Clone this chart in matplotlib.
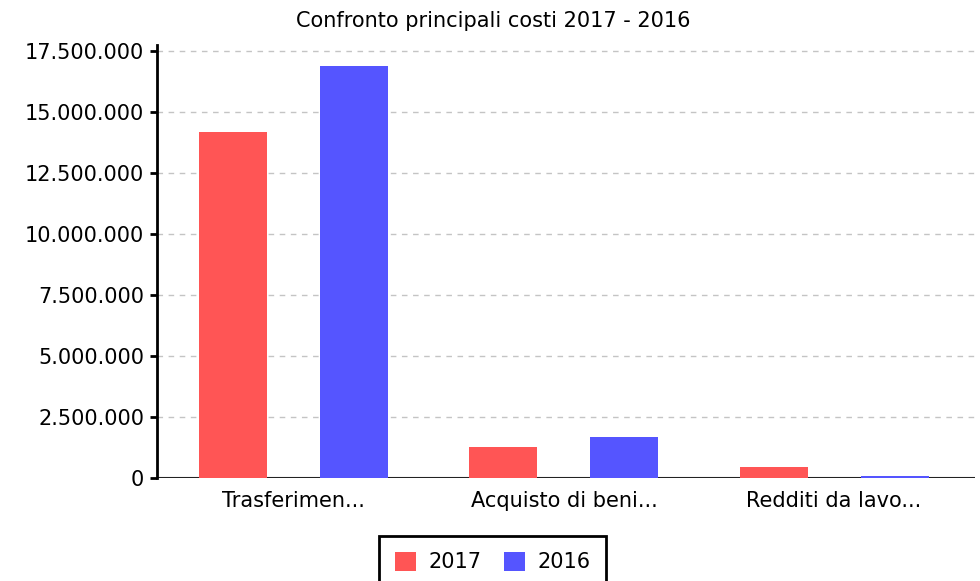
import numpy as np
import matplotlib
matplotlib.use("Agg")
import matplotlib.pyplot as plt
from matplotlib.ticker import FuncFormatter

categories = ["Trasferimen...", "Acquisto di beni...", "Redditi da lavo..."]
values_2017 = [14150000, 1250000, 430000]
values_2016 = [16870000, 1670000, 45000]
series_labels = ["2017", "2016"]
yticks = [0, 2500000, 5000000, 7500000, 10000000, 12500000, 15000000, 17500000]

red = "#ff5555"
blue = "#5555ff"

plt.rcParams["font.family"] = ["DejaVu Sans"]

fig = plt.figure(figsize=(9.8, 5.81), dpi=100)
ax = fig.add_axes([0.160, 0.178, 0.835, 0.7444])

x = np.arange(len(categories))
w = 0.252
off = 0.224
ax.bar(x - off, values_2017, w, color=red, label=series_labels[0], zorder=3)
ax.bar(x + off, values_2016, w, color=blue, label=series_labels[1], zorder=3)

ax.set_xlim(-0.507, 2.522)
ax.set_ylim(0, 17730000)
ax.set_yticks(yticks)
ax.yaxis.set_major_formatter(FuncFormatter(lambda v, p: f"{int(v):,}".replace(",", ".")))
ax.set_xticks(x)
ax.set_xticklabels(categories)

ax.grid(axis="y", color="#c4c4c4", linestyle=(0, (4, 4)), linewidth=1, zorder=0)
ax.axhline(0, color="#222222", linewidth=1.5, zorder=2)

for s in ["top", "right", "bottom"]:
    ax.spines[s].set_visible(False)
ax.spines["left"].set_linewidth(2)
ax.spines["left"].set_color("black")

ax.tick_params(axis="y", direction="out", length=5, width=2, labelsize=15, pad=4)
ax.tick_params(axis="x", length=0, labelsize=15, pad=10)

fig.text(0.503, 0.963, "Confronto principali costi 2017 - 2016", fontsize=15,
         ha="center", va="center")

leg = fig.legend(loc="lower center", bbox_to_anchor=(0.503, -0.03), ncol=2,
                 fontsize=15, frameon=True, fancybox=False, edgecolor="black",
                 framealpha=1, handlelength=1.0, handleheight=1.0, handletextpad=0.6,
                 columnspacing=1.1, borderpad=0.75)
leg.get_frame().set_linewidth(2)

fig.savefig("out.png", dpi=100)
